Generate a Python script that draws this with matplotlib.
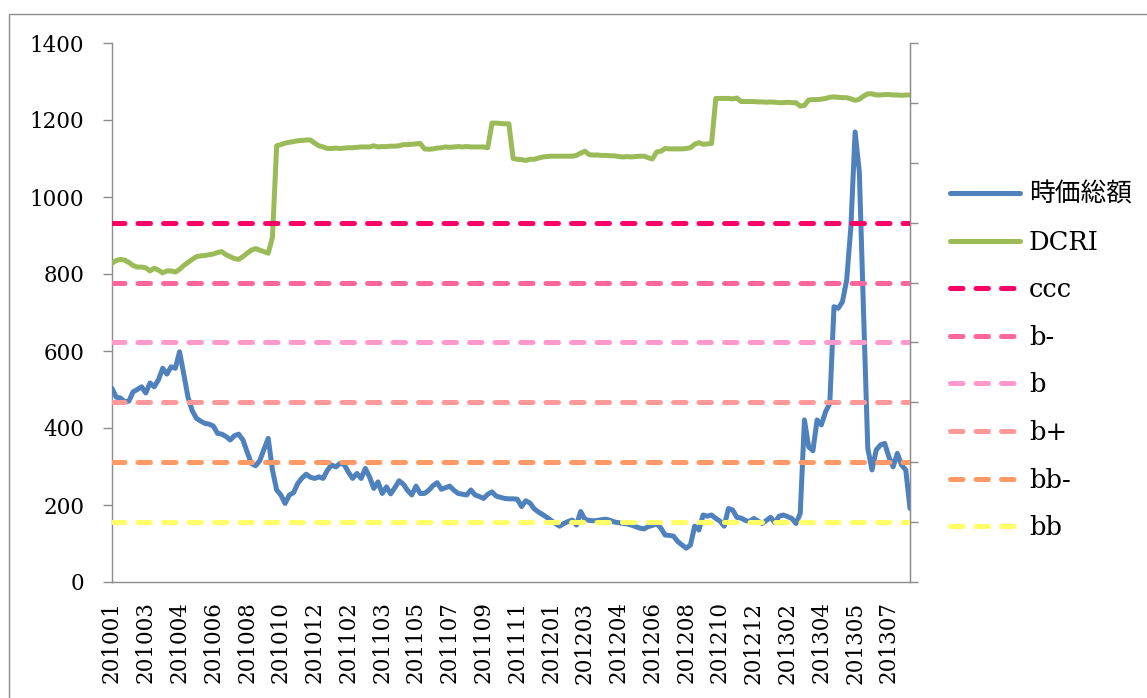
import numpy as np
import matplotlib
matplotlib.use('Agg')
import matplotlib.pyplot as plt
from matplotlib.patches import Rectangle

plt.rcParams['font.family'] = ['DejaVu Serif', 'Noto Sans CJK JP']

# 時価総額 (週次)
market_cap = [
    503, 480, 478, 468, 470, 494, 500, 507, 491, 517,
    507, 525, 555, 540, 559, 555, 598, 540, 480, 445,
    425, 418, 412, 410, 405, 386, 384, 378, 369, 380,
    384, 369, 338, 308, 302, 315, 345, 373, 291, 239,
    226, 204, 226, 232, 256, 270, 280, 272, 269, 273,
    269, 290, 304, 299, 308, 305, 285, 269, 282, 269,
    295, 273, 243, 260, 230, 247, 229, 245, 263, 254,
    238, 226, 249, 230, 230, 238, 250, 258, 241, 245,
    249, 238, 230, 228, 226, 239, 226, 222, 217, 228,
    234, 223, 220, 217, 216, 216, 215, 196, 211, 205,
    190, 182, 175, 168, 160, 152, 145, 152, 157, 161,
    148, 183, 163, 160, 159, 160, 162, 163, 160, 156,
    154, 152, 151, 148, 144, 140, 138, 144, 147, 151,
    140, 122, 121, 119, 105, 96, 88, 96, 145, 135,
    174, 171, 174, 165, 158, 145, 191, 187, 168, 166,
    160, 157, 165, 158, 152, 160, 168, 154, 171, 174,
    170, 165, 152, 178, 421, 351, 341, 421, 408, 442,
    464, 715, 711, 728, 784, 923, 1169, 1065, 700, 347,
    291, 343, 356, 360, 325, 299, 334, 304, 291, 191,
]

dcri = [
    828, 835, 838, 836, 830, 822, 818, 818, 816, 808,
    815, 810, 803, 808, 808, 805, 812, 822, 830, 838,
    845, 847, 848, 850, 852, 856, 858, 850, 845, 840,
    838, 845, 854, 862, 866, 862, 858, 854, 895, 1133,
    1136, 1140, 1142, 1144, 1146, 1147, 1148, 1148, 1140, 1133,
    1130, 1126, 1126, 1127, 1126, 1127, 1128, 1128, 1129, 1130,
    1130, 1130, 1133, 1130, 1131, 1131, 1132, 1132, 1133, 1136,
    1136, 1137, 1138, 1139, 1125, 1124, 1125, 1127, 1128, 1130,
    1129, 1130, 1131, 1130, 1131, 1130, 1130, 1130, 1130, 1128,
    1192, 1192, 1191, 1190, 1190, 1100, 1098, 1097, 1095, 1098,
    1098, 1101, 1104, 1105, 1106, 1106, 1106, 1106, 1106, 1106,
    1108, 1114, 1119, 1110, 1109, 1109, 1108, 1108, 1107, 1107,
    1105, 1104, 1105, 1104, 1105, 1106, 1106, 1102, 1099, 1117,
    1119, 1126, 1125, 1125, 1125, 1125, 1126, 1128, 1137, 1141,
    1137, 1138, 1139, 1256, 1256, 1256, 1256, 1255, 1257, 1248,
    1248, 1248, 1248, 1247, 1247, 1246, 1247, 1246, 1245, 1245,
    1246, 1245, 1245, 1236, 1238, 1252, 1253, 1253, 1254, 1256,
    1259, 1260, 1259, 1258, 1258, 1255, 1251, 1254, 1262, 1268,
    1268, 1265, 1265, 1266, 1266, 1265, 1265, 1264, 1265, 1265,
]

x_labels = ['201001', '201003', '201004', '201006', '201008', '201010',
            '201012', '201102', '201103', '201105', '201107', '201109',
            '201111', '201201', '201203', '201204', '201206', '201208',
            '201210', '201212', '201302', '201304', '201305', '201307']

level_names = ['ccc', 'b-', 'b', 'b+', 'bb-', 'bb']
level_values = [933.3, 777.8, 622.2, 466.7, 311.1, 155.6]
level_colors = ['#FF0066', '#FF6699', '#FF99CC', '#FF9999', '#FF9966', '#FFFF66']

W, H = 1147, 698
fig = plt.figure(figsize=(W / 100, H / 100), dpi=100)
ax = fig.add_axes([112 / W, 1 - 582 / H, (910 - 112) / W, (582 - 43) / H])

n = len(market_cap)
x = np.arange(n)
ax.plot(x, market_cap, color='#4F81BD', lw=3.6, label='時価総額', zorder=3,
        solid_joinstyle='round', solid_capstyle='round')
ax.plot(x, dcri, color='#9BBB59', lw=3.6, label='DCRI', zorder=3,
        solid_joinstyle='round', solid_capstyle='round')
for name, val, col in zip(level_names, level_values, level_colors):
    ax.plot([0, n - 1], [val, val], color=col, lw=3.6, ls=(0, (2.5, 2.6)),
            dash_capstyle='round', label=name, zorder=4)

ax.set_xlim(0, n - 1)
ax.set_ylim(0, 1400)
ax.set_yticks(range(0, 1401, 200))
ax.set_xticks(x[::8])
ax.set_xticklabels(x_labels, rotation=90)

spine_c = '#8C8C8C'
ax.spines['top'].set_visible(False)
for s in ['left', 'bottom', 'right']:
    ax.spines[s].set_color(spine_c)
    ax.spines[s].set_linewidth(1.0)
ax.tick_params(axis='y', direction='out', length=6.5, width=1.0, color=spine_c,
               labelsize=15.5, pad=13.5)
ax.tick_params(axis='x', length=0, labelsize=15.5, pad=14)

# 右軸 (目盛のみ)
ax2 = ax.twinx()
ax2.set_ylim(0, 1400)
ax2.set_yticks(np.linspace(0, 1400, 10))
ax2.set_yticklabels([])
ax2.tick_params(axis='y', direction='out', length=6, width=1.0, color=spine_c)
ax2.spines['top'].set_visible(False)
ax2.spines['right'].set_color(spine_c)
ax2.spines['left'].set_visible(False)
ax2.spines['bottom'].set_visible(False)

handles, labels = ax.get_legend_handles_labels()
fig.legend(handles, labels, loc='upper left', bbox_to_anchor=(950 / W, 1 - 182 / H),
           bbox_transform=fig.transFigure, frameon=False, fontsize=18.5,
           handlelength=2.72, handletextpad=0.35, labelspacing=0.88,
           borderpad=0, borderaxespad=0)

# 外枠
fig.patches.append(Rectangle((9 / W, -0.1), 1.2, 1 - 14 / H + 0.1, fill=False,
                             edgecolor=spine_c, lw=1.0, transform=fig.transFigure,
                             figure=fig))

fig.savefig('out.png', dpi=100)
